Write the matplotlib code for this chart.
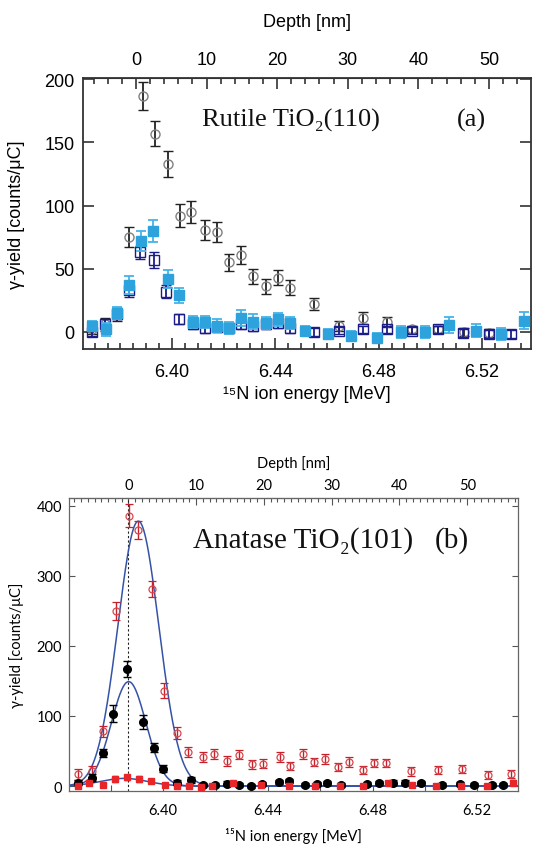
import matplotlib

matplotlib.use("Agg")
import matplotlib.pyplot as plt
import numpy as np
from matplotlib.ticker import MultipleLocator, FixedLocator

# ---- panel (a): rutile TiO2(110) ----
rut_circ_e = [6.3690, 6.3740, 6.3785, 6.3833, 6.3887, 6.3934, 6.3986, 6.4031, 6.4074,
              6.4128, 6.4173, 6.4219, 6.4268, 6.4313, 6.4363, 6.4412, 6.4455, 6.4550,
              6.4648, 6.4740, 6.4834, 6.4930, 6.5030, 6.5130, 6.5226]
rut_circ_y = [2, 6, 14, 75, 187, 157, 133, 92, 95, 81, 79, 55, 61, 44, 36, 43, 35, 22,
              5, 11, 8, 2, 2, 0, -1]
rut_circ_err = [4, 5, 5, 8, 11, 10, 10, 9, 9, 8, 8, 7, 7, 6, 6, 6, 6, 5, 4, 5, 4, 3, 3, 3, 3]

rut_open_e = [6.3690, 6.3740, 6.3785, 6.3833, 6.3876, 6.3930, 6.3977, 6.4027, 6.4080,
              6.4128, 6.4173, 6.4219, 6.4268, 6.4313, 6.4363, 6.4412, 6.4455, 6.4550,
              6.4648, 6.4740, 6.4834, 6.4930, 6.5030, 6.5125, 6.5226, 6.5311]
rut_open_y = [0, 6, 14, 33, 63, 57, 32, 10, 6, 3, 4, 3, 6, 5, 6, 7, 3, 0, 1, 2, 2, 1, 2,
              -1, -1.5, -1.5]
rut_open_err = [3, 4, 4, 5, 5, 6, 5, 4, 4, 4, 4, 4, 4, 4, 4, 4, 4, 3, 3, 3, 3, 3, 3, 3, 3, 3]

rut_fill_e = [6.3690, 6.3744, 6.3785, 6.3833, 6.3880, 6.3928, 6.3983, 6.4027, 6.4080,
              6.4128, 6.4173, 6.4219, 6.4268, 6.4313, 6.4363, 6.4412, 6.4455, 6.4516,
              6.4605, 6.4693, 6.4792, 6.4885, 6.4978, 6.5071, 6.5176, 6.5273, 6.5362]
rut_fill_y = [5, 2, 15, 37, 72, 80, 42, 29, 8, 8, 5, 3, 11, 8, 7, 10, 7, 1, -1.5, -3, -5,
              0, 0, 5.5, 1, -1.5, 9]
rut_fill_err = [4, 5, 5, 7, 8, 9, 7, 6, 5, 5, 5, 5, 6, 6, 5, 5, 5, 4, 4, 4, 4, 5, 5, 6,
                5, 5, 7]

# ---- panel (b): anatase TiO2(101) ----
ana_open_e = [6.3675, 6.3726, 6.3771, 6.3820, 6.3868, 6.3902, 6.3959, 6.4003, 6.4054,
              6.4096, 6.4151, 6.4194, 6.4245, 6.4290, 6.4338, 6.4380, 6.4446, 6.4484,
              6.4535, 6.4576, 6.4617, 6.4668, 6.4712, 6.4763, 6.4804, 6.4852, 6.4948,
              6.5049, 6.5142, 6.5242, 6.5331]
ana_open_y = [17, 21, 78, 250, 386, 365, 281, 136, 76, 49, 42, 46, 36, 45, 31, 32, 42,
              29, 46, 34, 39, 27, 34, 23, 33, 33, 21, 23, 24, 16, 17]
ana_open_err = [8, 8, 8, 13, 16, 13, 11, 11, 9, 7, 7, 7, 7, 7, 6, 6, 7, 6, 7, 6, 7, 6,
                7, 6, 6, 6, 6, 6, 6, 6, 6]

ana_black_e = [6.3675, 6.3726, 6.3770, 6.3808, 6.3862, 6.3923, 6.3963, 6.4001, 6.4054,
               6.4107, 6.4153, 6.4198, 6.4245, 6.4290, 6.4336, 6.4378, 6.4442, 6.4482,
               6.4543, 6.4588, 6.4626, 6.4680, 6.4778, 6.4824, 6.4877, 6.4925, 6.4985,
               6.5064, 6.5135, 6.5186, 6.5258, 6.5300]
ana_black_y = [5, 12, 47, 103, 167, 91, 55, 25, 5, 8.5, 2, 1.5, 3.6, 1.5, 0.5, 2.6, 6,
               7.6, 2, 2.6, 4.3, 2, 2.6, 4.3, 5, 5, 4.3, 2, 2.6, 2, 2, 2]
ana_black_err = [4, 5, 6, 12, 11, 10, 6, 5, 4, 4, 3, 3, 3, 3, 3, 3, 3, 3, 3, 3, 3, 3, 3,
                 3, 3, 3, 3, 3, 3, 3, 3, 3]

ana_sq_e = [6.3675, 6.3715, 6.3770, 6.3817, 6.3862, 6.3909, 6.3954, 6.4008, 6.4054,
            6.4099, 6.4145, 6.4188, 6.4267, 6.4374, 6.4482, 6.4579, 6.4674, 6.4763,
            6.4861, 6.4950, 6.5043, 6.5138, 6.5237, 6.5335]
ana_sq_y = [0.5, 4, 2, 10, 12.4, 10, 7.6, 2, 0, 0, -1, 0, 4, 1, 0, 0, 0, 0, 4, 1, 0, 0, 0, 5]
ana_sq_err = [3, 3, 3, 4, 4, 4, 3, 3, 3, 3, 3, 3, 3, 3, 3, 3, 3, 3, 3, 3, 3, 3, 3, 3]

# gaussian fits: (amplitude, centre, sigma)
fit_params = [(378, 6.3905, 0.0078), (149, 6.3868, 0.0066), (11, 6.3850, 0.0090)]

depth_ticks = [0, 10, 20, 30, 40, 50]

SANS = ["Liberation Sans", "DejaVu Sans"]
LATO = ["Lato", "DejaVu Sans"]
SERIF = ["Liberation Serif", "DejaVu Serif"]

fig = plt.figure(figsize=(5.35, 8.45), dpi=100)
W, H = 535, 845


def px_axes(left, top, right, bottom):
    return fig.add_axes([left / W, 1 - bottom / H, (right - left) / W, (bottom - top) / H])


# ================= panel (a) =================
ax = px_axes(83, 79, 531, 350)
ax.set_xlim(6.3655, 6.539)
ax.set_ylim(-13.5, 201)

ax.errorbar(rut_circ_e, rut_circ_y, yerr=rut_circ_err, fmt="o", ms=6.5, mfc="none",
            mec="#808080", mew=1.0, ecolor="#222222", elinewidth=1.3, capsize=3.5,
            capthick=1.3, zorder=3)
ax.errorbar(rut_open_e, rut_open_y, yerr=rut_open_err, fmt="s", ms=6.5, mfc="none",
            mec="#1c1c88", mew=1.0, ecolor="#1c1c88", elinewidth=1.3, capsize=3.5,
            capthick=1.3, zorder=4)
ax.errorbar(rut_fill_e, rut_fill_y, yerr=rut_fill_err, fmt="s", ms=7.5, mfc="#2da2dc",
            mec="#2da2dc", ecolor="#45b4e8", elinewidth=1.3, capsize=3.5,
            capthick=1.3, zorder=5)

ax.xaxis.set_major_locator(FixedLocator([6.40, 6.44, 6.48, 6.52]))
ax.xaxis.set_minor_locator(MultipleLocator(0.005))
ax.yaxis.set_major_locator(MultipleLocator(50))
ax.set_xticklabels(["6.40", "6.44", "6.48", "6.52"])
ax.tick_params(axis="both", which="both", direction="in", top=False, right=True,
               color="#333333", width=1.2, labelsize=13)
ax.tick_params(axis="x", pad=10)
ax.tick_params(axis="y", pad=6)
ax.tick_params(axis="both", which="major", length=8)
ax.tick_params(axis="x", which="minor", length=4)
for lab in ax.get_xticklabels() + ax.get_yticklabels():
    lab.set_family(SANS)
for sp in ax.spines.values():
    sp.set_color("#333333")
    sp.set_linewidth(1.3)

ax.set_xlabel("¹⁵N ion energy [MeV]", family=SANS, fontsize=13, labelpad=4)
ax.set_ylabel("γ-yield [counts/μC]", family=SANS, fontsize=13)
ax.yaxis.set_label_coords(-0.13, 0.5)

d0a, scale_a = 6.386, 0.002734
sec = ax.secondary_xaxis("top", functions=(lambda e: (e - d0a) / scale_a,
                                            lambda d: d * scale_a + d0a))
sec.xaxis.set_major_locator(FixedLocator(depth_ticks))
sec.xaxis.set_minor_locator(MultipleLocator(2))
sec.tick_params(which="both", direction="in", color="#333333", width=1.2, labelsize=13,
                pad=7)
sec.tick_params(which="major", length=8)
sec.tick_params(which="minor", length=4)
for lab in sec.get_xticklabels():
    lab.set_family(SANS)
sec.spines["top"].set_color("#333333")
sec.set_xlabel("Depth [nm]", family=SANS, fontsize=13, labelpad=18)

fig.text(202 / W, 1 - 127 / H, "Rutile TiO₂(110)", family=SERIF, fontsize=19,
         ha="left", va="baseline", color="#111111")
fig.text(457 / W, 1 - 127 / H, "(a)", family=SERIF, fontsize=19,
         ha="left", va="baseline", color="#111111")

# ================= panel (b) =================
bx = px_axes(69, 499, 518, 792)
bx.set_xlim(6.364, 6.5356)
bx.set_ylim(-7, 411)

ee = np.linspace(6.364, 6.5356, 600)
for amp, cen, sig in fit_params:
    bx.plot(ee, amp * np.exp(-0.5 * ((ee - cen) / sig) ** 2), color="#3553a6", lw=1.1,
            zorder=2)
d0b = 6.3867
bx.axvline(d0b, color="#222222", lw=0.8, ls=(0, (2, 2)), zorder=1)

bx.errorbar(ana_open_e, ana_open_y, yerr=ana_open_err, fmt="o", ms=5, mfc="none",
            mec="#d4484e", mew=0.9, ecolor="#c8202a", elinewidth=1.0, capsize=3,
            capthick=1.0, zorder=3)
bx.errorbar(ana_black_e, ana_black_y, yerr=ana_black_err, fmt="o", ms=5.5, mfc="black",
            mec="black", ecolor="black", elinewidth=1.0, capsize=3, capthick=1.0,
            zorder=4)
bx.errorbar(ana_sq_e, ana_sq_y, yerr=ana_sq_err, fmt="s", ms=4.2, mfc="#e8262a",
            mec="#e8262a", ecolor="#c8202a", elinewidth=1.0, capsize=2.5, capthick=1.0,
            zorder=5)

bx.xaxis.set_major_locator(FixedLocator([6.40, 6.44, 6.48, 6.52]))
bx.xaxis.set_minor_locator(MultipleLocator(0.02))
bx.yaxis.set_major_locator(MultipleLocator(100))
bx.set_xticklabels(["6.40", "6.44", "6.48", "6.52"])
bx.tick_params(axis="both", which="both", direction="in", top=False, right=True,
               color="#555555", width=0.8, length=4, labelsize=10.5)
bx.tick_params(axis="x", pad=9)
bx.tick_params(axis="y", pad=5)
for lab in bx.get_xticklabels() + bx.get_yticklabels():
    lab.set_family(LATO)
for sp in bx.spines.values():
    sp.set_color("#666666")
    sp.set_linewidth(0.9)

bx.set_xlabel("¹⁵N ion energy [MeV]", family=LATO, fontsize=10.5, labelpad=7)
bx.set_ylabel("γ-yield [counts/μC]", family=LATO, fontsize=10.5)
bx.yaxis.set_label_coords(-0.1, 0.5)

scale_b = 0.00259
secb = bx.secondary_xaxis("top", functions=(lambda e: (e - d0b) / scale_b,
                                             lambda d: d * scale_b + d0b))
secb.xaxis.set_major_locator(FixedLocator(depth_ticks))
secb.xaxis.set_minor_locator(MultipleLocator(1))
secb.tick_params(which="both", direction="in", color="#555555", width=0.8,
                 labelsize=10.5, pad=4)
secb.tick_params(which="major", length=5)
secb.tick_params(which="minor", length=3)
for lab in secb.get_xticklabels():
    lab.set_family(LATO)
secb.spines["top"].set_color("#666666")
secb.set_xlabel("Depth [nm]", family=LATO, fontsize=10.5, labelpad=8)

fig.text(193 / W, 1 - 548 / H, "Anatase TiO₂(101)", family=SERIF, fontsize=21,
         ha="left", va="baseline", color="#111111")
fig.text(435 / W, 1 - 548 / H, "(b)", family=SERIF, fontsize=21,
         ha="left", va="baseline", color="#111111")

fig.savefig("out.png", dpi=100)
